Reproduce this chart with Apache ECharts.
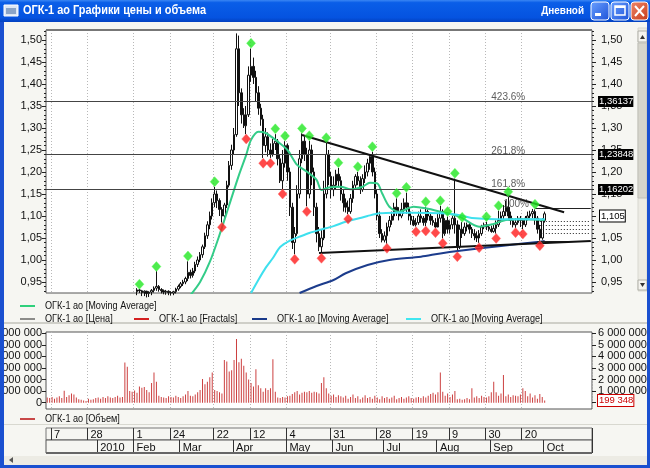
<!DOCTYPE html>
<html><head><meta charset="utf-8">
<script src="https://cdn.jsdelivr.net/npm/echarts@6/dist/echarts.min.js"></script>
<style>html,body{margin:0;padding:0;background:#f6f6f2}#c{width:650px;height:468px}</style>
</head><body><div id="c"></div><script>
// ---------- calendar (trading days) ----------
const firstTradingDay = '2009-12-03';
const lastTradingDay = '2010-10-28';
const holidays = ['2010-01-01','2010-01-04','2010-01-05','2010-01-06','2010-01-07','2010-01-08','2010-02-22','2010-02-23','2010-03-08','2010-05-03','2010-05-10','2010-06-14'];
const extraWorkdays = ['2010-02-27'];

// ---------- date header labels ----------
const topRowDates = ['2009-12-07','2009-12-28','2010-02-01','2010-02-24','2010-03-22','2010-04-12','2010-05-04','2010-05-31','2010-06-28','2010-07-19','2010-08-09','2010-08-30','2010-09-20'];
const topRowLabels = ['7','28','1','24','22','12','4','31','28','19','9','30','20'];
const bottomRowDates = ['2010-01-11','2010-02-01','2010-03-01','2010-04-01','2010-05-04','2010-06-01','2010-07-01','2010-08-02','2010-09-01','2010-10-01'];
const bottomRowLabels = ['2010','Feb','Mar','Apr','May','Jun','Jul','Aug','Sep','Oct'];

// ---------- axis ticks ----------
const priceTicks = [0.95,1.00,1.05,1.10,1.15,1.20,1.25,1.30,1.35,1.40,1.45,1.50];
const volumeTicks = [0,1,2,3,4,5,6]; // millions
const volumeTickLabels = ['0','1 000 000','2 000 000','3 000 000','4 000 000','5 000 000','6 000 000'];

// ---------- price candles [open, close, low, high], first candle date ----------
const priceFirstDate = '2010-02-02';
const ohlc = [
[.928,.932,.920,.936],[.932,.930,.925,.934],[.930,.926,.918,.932],[.926,.929,.918,.931],[.929,.924,.915,.930],
[.924,.927,.916,.929],[.927,.931,.920,.934],[.931,.936,.926,.940],[.936,.940,.930,.975],[.940,.933,.928,.943],
[.933,.930,.924,.936],[.930,.927,.922,.933],[.927,.929,.921,.932],[.929,.926,.920,.931],[.926,.925,.919,.929],
[.925,.928,.920,.930],[.928,.934,.924,.937],[.934,.940,.930,.944],[.940,.946,.936,.950],[.946,.950,.941,.955],
[.950,.958,.945,.962],[.958,.972,.952,.997],[.972,.965,.958,.978],[.965,.975,.960,.982],[.975,.990,.970,.996],
[.990,1.000,.984,1.008],[1.000,1.012,.995,1.018],[1.012,1.030,1.005,1.035],[1.030,1.055,1.025,1.062],[1.055,1.080,1.048,1.088],
[1.080,1.100,1.070,1.110],[1.100,1.130,1.092,1.140],[1.130,1.150,1.120,1.166],[1.150,1.135,1.118,1.158],[1.135,1.115,1.100,1.140],
[1.115,1.100,1.085,1.120],[1.100,1.125,1.094,1.130],[1.125,1.170,1.118,1.180],[1.170,1.215,1.165,1.225],[1.215,1.250,1.205,1.262],
[1.250,1.285,1.240,1.300],[1.285,1.480,1.280,1.515],[1.480,1.380,1.350,1.510],[1.380,1.330,1.310,1.390],[1.330,1.305,1.300,1.345],
[1.305,1.330,1.286,1.350],[1.330,1.420,1.325,1.440],[1.420,1.440,1.405,1.480],[1.440,1.415,1.400,1.460],[1.415,1.380,1.360,1.430],
[1.380,1.345,1.330,1.395],[1.345,1.320,1.305,1.355],[1.320,1.260,1.232,1.330],[1.260,1.280,1.245,1.300],[1.280,1.250,1.235,1.290],
[1.250,1.240,1.232,1.265],[1.240,1.265,1.235,1.275],[1.265,1.270,1.250,1.286],[1.270,1.230,1.215,1.275],[1.230,1.180,1.175,1.240],
[1.180,1.220,1.161,1.250],[1.220,1.260,1.210,1.270],[1.260,1.200,1.180,1.265],[1.200,1.120,1.100,1.210],[1.120,1.040,1.025,1.130],
[1.040,1.060,1.013,1.075],[1.060,1.150,1.055,1.170],[1.150,1.230,1.140,1.250],[1.230,1.270,1.220,1.288],[1.270,1.240,1.225,1.280],
[1.240,1.150,1.122,1.255],[1.150,1.250,1.140,1.271],[1.250,1.200,1.170,1.262],[1.200,1.120,1.100,1.210],[1.120,1.060,1.040,1.130],
[1.060,1.030,1.020,1.075],[1.030,1.050,1.015,1.070],[1.050,1.150,1.045,1.180],[1.150,1.240,1.140,1.266],[1.240,1.190,1.170,1.250],
[1.190,1.160,1.140,1.200],[1.160,1.170,1.145,1.190],[1.170,1.195,1.160,1.205],[1.195,1.180,1.165,1.209],[1.180,1.150,1.135,1.190],
[1.150,1.130,1.110,1.160],[1.130,1.120,1.108,1.140],[1.120,1.110,1.104,1.135],[1.110,1.140,1.105,1.150],[1.140,1.170,1.130,1.180],
[1.170,1.190,1.160,1.195],[1.190,1.180,1.170,1.200],[1.180,1.160,1.150,1.190],[1.160,1.185,1.155,1.195],[1.185,1.200,1.175,1.215],
[1.200,1.220,1.190,1.230],[1.220,1.235,1.205,1.240],[1.235,1.200,1.190,1.246],[1.200,1.150,1.140,1.210],[1.150,1.100,1.090,1.160],
[1.100,1.060,1.050,1.110],[1.060,1.045,1.040,1.070],[1.045,1.055,1.040,1.065],[1.055,1.075,1.037,1.085],[1.075,1.090,1.065,1.100],
[1.090,1.100,1.080,1.110],[1.100,1.120,1.090,1.130],[1.120,1.110,1.100,1.140],[1.110,1.100,1.090,1.120],[1.100,1.115,1.095,1.130],
[1.115,1.130,1.105,1.140],[1.130,1.120,1.105,1.153],[1.120,1.100,1.090,1.130],[1.100,1.090,1.080,1.110],[1.090,1.080,1.077,1.100],
[1.080,1.085,1.076,1.095],[1.085,1.100,1.080,1.110],[1.100,1.095,1.085,1.115],[1.095,1.085,1.078,1.100],[1.085,1.110,1.077,1.121],
[1.110,1.100,1.090,1.115],[1.100,1.090,1.080,1.105],[1.090,1.085,1.078,1.100],[1.085,1.075,1.073,1.095],[1.075,1.095,1.074,1.105],
[1.095,1.110,1.085,1.123],[1.110,1.060,1.049,1.115],[1.060,1.090,1.055,1.095],[1.090,1.070,1.060,1.099],[1.070,1.080,1.060,1.090],
[1.080,1.095,1.070,1.100],[1.095,1.080,1.060,1.185],[1.080,1.030,1.018,1.090],[1.030,1.070,1.025,1.080],[1.070,1.060,1.050,1.086],
[1.060,1.075,1.055,1.085],[1.075,1.080,1.065,1.085],[1.080,1.070,1.060,1.084],[1.070,1.060,1.050,1.075],[1.060,1.055,1.045,1.070],
[1.055,1.050,1.041,1.065],[1.050,1.060,1.039,1.068],[1.060,1.075,1.055,1.080],[1.075,1.080,1.070,1.085],[1.080,1.075,1.068,1.087],
[1.075,1.070,1.065,1.080],[1.070,1.065,1.062,1.078],[1.065,1.072,1.062,1.080],[1.072,1.080,1.060,1.090],[1.080,1.090,1.075,1.112],
[1.090,1.100,1.085,1.110],[1.100,1.110,1.090,1.125],[1.110,1.120,1.100,1.135],[1.120,1.100,1.090,1.143],[1.100,1.090,1.080,1.110],
[1.090,1.080,1.074,1.095],[1.080,1.085,1.073,1.095],[1.085,1.095,1.080,1.100],[1.095,1.090,1.075,1.100],[1.090,1.080,1.070,1.095],
[1.080,1.095,1.075,1.100],[1.095,1.100,1.090,1.110],[1.100,1.105,1.095,1.112],[1.105,1.110,1.095,1.116],[1.110,1.095,1.080,1.115],
[1.095,1.070,1.060,1.100],[1.070,1.050,1.044,1.080],[1.050,1.090,1.046,1.095],[1.090,1.105,1.085,1.110]
];

// ---------- volume (millions of shares), from first trading day ----------
const volume = [
0.45,0.40,0.50,0.35,0.45,0.55,0.40, 1.04, 0.50, 0.65,0.80,0.70, 0.45,
0.30,0.25,0.20,0.15,0.35,0.25,0.30,0.40,
0.45,0.35,0.50,0.40,0.55,0.45,0.40,0.50,0.60,0.45,0.50,
3.47,3.10, 1.00,0.95,1.05,0.85, 1.40,1.30,1.35, 1.10,0.90, 1.70,2.60,1.80,
0.60,0.50,0.45,0.40,0.55,0.50,0.45,0.60,0.50,0.40,0.55,
0.70,1.00,0.60, 0.55,0.70,0.90,1.10, 2.05,1.60,1.80,2.20,2.60,1.10, 1.00,0.90,0.80,
3.70,3.56,2.70,2.80,3.70,5.50,3.50,3.80,3.20,2.60,2.00,1.70,1.40,2.90,1.50,1.25,0.95,1.25,1.10,1.25,3.75,0.95,
0.45,0.40,0.50,0.45,0.55, 0.60,0.75,0.90,1.00,0.70,0.85,0.95, 0.90,1.00,0.85,0.95,0.90,
0.80,1.70,2.20,1.25, 0.80,0.60,0.70,0.50,0.65,0.55,
0.45,0.60,0.35,0.50,0.70,0.40,0.55,0.30,0.45,0.65,0.40,0.50,0.35,0.60,0.45,0.30,0.55,0.40,0.50,0.35,0.45,0.60,0.30,0.40,0.50,0.35,0.45,0.55,0.40,
0.35,0.45,0.50,0.40,0.55,0.45,0.60, 0.75,0.85,0.70,0.90, 2.60,0.95, 0.60,0.80,0.50,0.70, 1.00,
0.30,0.35,0.25,0.30,0.40,0.30, 1.25, 0.45,0.55,0.40,0.60,0.50,0.45,0.55,
0.90,1.80,0.90,0.60,0.80,2.40, 0.55,0.70,0.50,0.65,0.60,0.55,0.70, 1.25,1.00,
0.55,0.80,0.45,0.65,0.35,0.75,0.50, 0.199348
];

// ---------- indicators: [trading-day index, value] ----------
const fractalsUp = [[38,0.945],[45,0.985],[58,1.009],[69,1.178],[84,1.4925],[94,1.298],[98,1.282],[105,1.299],[108,1.2825],[115,1.278],[120,1.221],[128,1.212],[134,1.2575],[144,1.1516],[148,1.1652],[156,1.1325],[162,1.1348],[165,1.110],[168,1.197],[171,1.097],[181,1.0984],[186,1.1234],[190,1.1552],[201,1.1266]];
const fractalsDown = [[72,1.0743],[82,1.275],[89,1.22],[92,1.22],[97,1.15],[102,1.0016],[107,1.11],[113,1.0039],[124,1.093],[140,1.0266],[152,1.0643],[156,1.066],[160,1.062],[163,1.038],[169,1.0075],[178,1.028],[185,1.049],[193,1.062],[196,1.059],[203,1.0325]];
const maGreen = [[59,0.920],[63,0.950],[67,0.9955],[71,1.057],[75,1.125],[79,1.193],[82,1.239],[84,1.273],[87,1.2916],[90,1.2886],[95,1.269],[99,1.25],[103,1.216],[107,1.2007],[111,1.182],[113,1.159],[116,1.165],[121,1.1666],[125,1.1607],[130,1.1666],[133,1.1757],[136,1.1743],[138,1.1516],[141,1.1211],[145,1.1098],[151,1.1211],[156,1.1175],[162,1.1098],[170,1.0984],[178,1.0757],[184,1.082],[189,1.091],[196,1.0925],[205,1.091]];
const maCyan = [[84,0.925],[87,0.9545],[90,0.982],[93,1.0045],[96,1.0295],[100,1.044],[104,1.053],[108,1.0614],[112,1.068],[118,1.077],[123,1.087],[129,1.0955],[132,1.100],[137,1.106],[143,1.1075],[151,1.1075],[162,1.106],[170,1.102],[175,1.0955],[189,1.0925],[205,1.0925]];
const maNavy = [[104,0.925],[111,0.941],[118,0.9545],[123,0.9698],[132,0.9886],[141,1.000],[154,1.0075],[162,1.015],[170,1.021],[187,1.0318],[203,1.0416],[205,1.043]];
const resistanceLine = [[105,1.284],[213,1.1084]];
const supportLine = [[112,1.016],[224,1.0432]];

// ---------- Fibonacci levels ----------
const fibFullLevels = [1.36137,1.23848,1.16202];
const fibFullValueLabels = ['1,36137','1,23848','1,16202'];
const fibShortLevels = [1.1175,1.0886,1.0795,1.0705,1.0614,1.0432];
const fibShortStart = [201,203,203,203,203,202];
const fibTexts = [[183,1.36137,'423.6%'],[183,1.23848,'261.8%'],[183,1.16202,'161.8%'],[188,1.1175,'100%']];
const lastPrice = 1.105, lastPriceLabel = '1,105';
const lastVolume = 0.199348, lastVolumeLabel = '199 348';

// ---------- build ----------
const dates = [];
for (let t = Date.parse(firstTradingDay+'T00:00:00Z'); t <= Date.parse(lastTradingDay+'T00:00:00Z'); t += 86400000) {
  const d = new Date(t), s = d.toISOString().slice(0,10), wd = d.getUTCDay();
  if ((wd > 0 && wd < 6 && holidays.indexOf(s) < 0) || extraWorkdays.indexOf(s) >= 0) dates.push(s);
}
const p0 = dates.indexOf(priceFirstDate);
const candleData = dates.map((d,i) => (i >= p0 && i - p0 < ohlc.length) ? ohlc[i-p0] : '-');
const volData = dates.map((d,i) => i < volume.length ? volume[i] : '-');
const topMap = {}; topRowDates.forEach((d,k) => { topMap[dates.indexOf(d)] = topRowLabels[k]; });
const botMap = {}; bottomRowDates.forEach((d,k) => { botMap[dates.indexOf(d)] = bottomRowLabels[k]; });
const minorTicks = []; for (let v = 93; v <= 152; v++) if (v % 5) minorTicks.push(v/100);

const FONT = '"Liberation Sans", Arial, sans-serif';
const L = 46, R = 58;
const gridLine = { show: true, interval: i => topMap[i] !== undefined, lineStyle: { color: '#b8b8b8', type: [1,2], width: 1 } };
const HIDDEN_LINE = { color:'rgba(0,0,0,0)', width:0 };

function priceY(pos, labels) {
  return { type:'value', gridIndex:0, position:pos, min:0.925, max:1.5227,
    axisLine:{show:false}, splitLine:{show:false},
    axisTick:{show:true, customValues: labels ? priceTicks : minorTicks, length: labels ? 4 : 2, lineStyle:{color:'#222'}},
    axisLabel:{show:labels, customValues: priceTicks, formatter: v => v.toFixed(2).replace('.', ','), fontFamily:FONT, fontSize:11, color:'#111', margin: pos === 'left' ? 4 : 9} };
}
function volY(pos) {
  return { type:'value', gridIndex:1, position:pos, min:-0.545, max:6.11,
    axisLine:{show:false}, splitLine:{show:false},
    axisTick:{show:true, customValues: volumeTicks, length:4, lineStyle:{color:'#222'}},
    axisLabel:{customValues: volumeTicks, formatter: v => volumeTickLabels[volumeTicks.indexOf(Math.round(v))], fontFamily:FONT, fontSize:11, color:'#111', margin: pos === 'left' ? 4 : 6} };
}

const boxLabel = (txt, bg, fg, border, dist) => ({ show:true, formatter: txt, position:'end', distance: dist || 6, backgroundColor:bg, color:fg, borderColor:border || bg, borderWidth: border ? 1 : 0, padding:[1,0,0,1], fontFamily:FONT, fontSize:9.5 });

// title width fit
const mctx = document.createElement('canvas').getContext('2d');
const titleText = 'ОГК-1 ао Графики цены и объема';
mctx.font = 'bold 12px ' + FONT;
const titleScale = 183 / mctx.measureText(titleText).width;

function legend(x, y, color, text, lw) {
  return [
    { type:'line', z:50, shape:{x1:x, y1:y, x2:x+15, y2:y}, style:{stroke:color, lineWidth:lw||2} },
    { type:'text', z:50, x:x+25, y:y, scaleX:0.83, style:{text:text, fill:'#111', font:'11px ' + FONT, verticalAlign:'middle'} }
  ];
}

const blueGrad = {type:'linear', x:0, y:0, x2:0, y2:1, colorStops:[{offset:0,color:'#3a86f4'},{offset:0.12,color:'#0a5ee8'},{offset:0.8,color:'#0553e0'},{offset:1,color:'#0341c0'}]};
const btnGrad = {type:'linear', x:0, y:0, x2:1, y2:1, colorStops:[{offset:0,color:'#6aa0ff'},{offset:1,color:'#1d52d8'}]};
const redGrad = {type:'linear', x:0, y:0, x2:1, y2:1, colorStops:[{offset:0,color:'#f0876a'},{offset:1,color:'#c63a18'}]};

const graphics = [
  // title bar
  { type:'rect', z:60, shape:{x:0, y:0, width:650, height:22}, style:{fill:blueGrad} },
  { type:'rect', z:61, shape:{x:4, y:5, width:14, height:11}, style:{fill:'#dce6f4', stroke:'#ffffff', lineWidth:1} },
  { type:'rect', z:62, shape:{x:6, y:8, width:10, height:6}, style:{fill:'#8aa4c8'} },
  { type:'text', z:61, x:23, y:11, scaleX:titleScale, style:{text:titleText, fill:'#ffffff', font:'bold 12px ' + FONT, verticalAlign:'middle'} },
  { type:'text', z:61, x:584, y:11, scaleX:0.9, style:{text:'Дневной', fill:'#ffffff', font:'bold 11px ' + FONT, verticalAlign:'middle', align:'right'} },
  { type:'rect', z:61, shape:{x:591, y:2, width:18, height:18, r:3}, style:{fill:btnGrad, stroke:'#ffffff', lineWidth:1} },
  { type:'rect', z:62, shape:{x:595, y:13, width:6, height:3}, style:{fill:'#ffffff'} },
  { type:'rect', z:61, shape:{x:611, y:2, width:18, height:18, r:3}, style:{fill:btnGrad, stroke:'#ffffff', lineWidth:1} },
  { type:'rect', z:62, shape:{x:615, y:6, width:10, height:9}, style:{fill:'none', stroke:'#ffffff', lineWidth:1.5} },
  { type:'rect', z:62, shape:{x:615, y:6, width:10, height:2}, style:{fill:'#ffffff'} },
  { type:'rect', z:61, shape:{x:631, y:2, width:17, height:18, r:3}, style:{fill:redGrad, stroke:'#ffffff', lineWidth:1} },
  { type:'line', z:62, shape:{x1:635, y1:6, x2:644, y2:16}, style:{stroke:'#ffffff', lineWidth:2} },
  { type:'line', z:62, shape:{x1:644, y1:6, x2:635, y2:16}, style:{stroke:'#ffffff', lineWidth:2} },
  // frame borders
  { type:'rect', z:60, shape:{x:0, y:22, width:4, height:446}, style:{fill:'#1a50d0'} },
  { type:'rect', z:60, shape:{x:647, y:22, width:3, height:446}, style:{fill:'#1a50d0'} },
  { type:'rect', z:60, shape:{x:0, y:465, width:650, height:3}, style:{fill:'#1a50d0'} },
  // vertical scrollbar
  { type:'rect', z:55, shape:{x:638, y:28, width:9, height:263}, style:{fill:'#ecebe4', stroke:'#d8d8d0'} },
  { type:'rect', z:56, shape:{x:638, y:31, width:9, height:11}, style:{fill:'#f4f3ee', stroke:'#b0b0a8'} },
  { type:'polygon', z:57, shape:{points:[[640,39],[645,39],[642.5,35]]}, style:{fill:'#333'} },
  { type:'rect', z:56, shape:{x:638, y:43, width:9, height:155}, style:{fill:'#d6d5cc', stroke:'#c0c0b8'} },
  { type:'rect', z:56, shape:{x:638, y:280, width:9, height:10}, style:{fill:'#f4f3ee', stroke:'#b0b0a8'} },
  { type:'polygon', z:57, shape:{points:[[640,283],[645,283],[642.5,287]]}, style:{fill:'#333'} },
  // horizontal scrollbar strip
  { type:'rect', z:55, shape:{x:4, y:456, width:643, height:9}, style:{fill:'#ecebe4'} },
  { type:'polygon', z:56, shape:{points:[[13,457],[13,463],[9,460]]}, style:{fill:'#555'} },
  // panel separators and heavier plot top edge
  { type:'rect', z:5, shape:{x:4, y:322, width:643, height:2}, style:{fill:'#cfcfc8'} },
  { type:'rect', z:5, shape:{x:4, y:424, width:643, height:1}, style:{fill:'#d8d8d0'} },
  { type:'rect', z:20, shape:{x:46, y:29, width:546, height:2}, style:{fill:'#777777'} },
  { type:'rect', z:20, shape:{x:46, y:452, width:546, height:2}, style:{fill:'#666666'} }
].concat(
  legend(20, 306, '#2fd07c', 'ОГК-1 ао [Moving Average]'),
  legend(20, 319, '#222222', 'ОГК-1 ао [Цена]', 1),
  legend(134, 319, '#d42020', 'ОГК-1 ао [Fractals]'),
  legend(252, 319, '#1a3a8a', 'ОГК-1 ао [Moving Average]'),
  legend(406, 319, '#40e6f0', 'ОГК-1 ао [Moving Average]'),
  legend(20, 419, '#c84848', 'ОГК-1 ао [Объем]')
);

const gridBase = { left:L, right:R, show:true, outerBoundsMode:'none', containLabel:false };
const option = {
  animation: false,
  backgroundColor: '#f6f6f2',
  textStyle: { fontFamily: FONT },
  grid: [
    Object.assign({ top:30, height:263, backgroundColor:'#ffffff', borderColor:'#555', borderWidth:1 }, gridBase),
    Object.assign({ top:332, height:77, backgroundColor:'#ffffff', borderColor:'#555', borderWidth:1 }, gridBase),
    Object.assign({ top:428, height:12, backgroundColor:'#f6f6f2', borderColor:'#777', borderWidth:1 }, gridBase),
    Object.assign({ top:440, height:13, backgroundColor:'#f6f6f2', borderColor:'#555', borderWidth:1 }, gridBase)
  ],
  xAxis: [
    { type:'category', gridIndex:0, data:dates, boundaryGap:true, axisLine:{show:false}, axisTick:{show:false}, axisLabel:{show:false}, splitLine:gridLine },
    { type:'category', gridIndex:1, data:dates, boundaryGap:true, axisLine:{show:false}, axisTick:{show:false}, axisLabel:{show:false}, splitLine:gridLine },
    { type:'category', gridIndex:2, data:dates, boundaryGap:true, axisLine:{show:false}, splitLine:{show:false},
      axisTick:{show:true, inside:true, length:12, interval: i => topMap[i] !== undefined, lineStyle:{color:'#333'}},
      axisLabel:{show:true, inside:true, margin:0, interval: i => topMap[i] !== undefined, formatter:(v,i) => topMap[i] || '', align:'left', padding:[0,0,0,2], fontFamily:FONT, fontSize:11, color:'#111'} },
    { type:'category', gridIndex:3, data:dates, boundaryGap:true, axisLine:{show:false}, splitLine:{show:false},
      axisTick:{show:true, inside:true, length:13, interval: i => botMap[i] !== undefined, lineStyle:{color:'#333'}},
      axisLabel:{show:true, inside:true, margin:0, interval: i => botMap[i] !== undefined, formatter:(v,i) => botMap[i] || '', align:'left', padding:[0,0,0,2], fontFamily:FONT, fontSize:11, color:'#111'} }
  ],
  yAxis: [
    priceY('left', true), priceY('right', true), priceY('left', false), priceY('right', false),
    volY('left'), volY('right'),
    { type:'value', gridIndex:2, show:false, min:0, max:1 },
    { type:'value', gridIndex:3, show:false, min:0, max:1 }
  ],
  graphic: graphics,
  series: [
    { type:'candlestick', name:'ОГК-1 ао [Цена]', xAxisIndex:0, yAxisIndex:0, data:candleData, barWidth:2, clip:true,
      itemStyle:{ color:'#ffffff', color0:'#111111', borderColor:'#111111', borderColor0:'#111111', borderWidth:1 } },
    { type:'line', name:'MA green', xAxisIndex:0, yAxisIndex:0, data:maGreen, smooth:0.3, symbol:'none', clip:true, z:4, lineStyle:{color:'#33cc88', width:2} },
    { type:'line', name:'MA cyan', xAxisIndex:0, yAxisIndex:0, data:maCyan, smooth:0.3, symbol:'none', clip:true, z:4, lineStyle:{color:'#3ee0ee', width:2} },
    { type:'line', name:'MA navy', xAxisIndex:0, yAxisIndex:0, data:maNavy, smooth:0.3, symbol:'none', clip:true, z:4, lineStyle:{color:'#1c3c8c', width:2} },
    { type:'line', name:'resistance', xAxisIndex:0, yAxisIndex:0, data:resistanceLine, symbol:'none', z:5, lineStyle:{color:'#111', width:2} },
    { type:'line', name:'support', xAxisIndex:0, yAxisIndex:0, data:supportLine, symbol:'none', z:5, lineStyle:{color:'#111', width:2} },
    { type:'line', name:'fib', xAxisIndex:0, yAxisIndex:0, data:[], z:3,
      markLine:{ silent:true, symbol:'none', animation:false,
        lineStyle:{color:'#444', type:'solid', width:1},
        data: fibFullLevels.map((v,k) => ({ yAxis:v, label: boxLabel(fibFullValueLabels[k], '#000', '#fff') }))
          .concat([{ yAxis:lastPrice, lineStyle:HIDDEN_LINE, label: boxLabel(lastPriceLabel, '#fff', '#000', '#000', 8) }])
          .concat(fibShortLevels.map((v,k) => [
            { coord:[fibShortStart[k], v], lineStyle:{color:'#222', type: (k === 0 || k === fibShortLevels.length-1) ? 'solid' : [1,2], width:1}, label:{show:false} },
            { coord:[dates.length-1, v] } ]))
      } },
    { type:'scatter', name:'fibText', xAxisIndex:0, yAxisIndex:0, data:fibTexts.map(t => ({value:[t[0], t[1]], label:{formatter:t[2]}})), symbolSize:0, z:6,
      label:{show:true, position:'right', distance:0, offset:[0,-4], color:'#333', fontFamily:FONT, fontSize:10} },
    { type:'scatter', name:'fractal up', xAxisIndex:0, yAxisIndex:0, data:fractalsUp, symbol:'diamond', symbolSize:[9,10], z:7,
      itemStyle:{color:'#22e622', borderColor:'#55ff55', borderWidth:0.5} },
    { type:'scatter', name:'fractal down', xAxisIndex:0, yAxisIndex:0, data:fractalsDown, symbol:'diamond', symbolSize:[9,10], z:7,
      itemStyle:{color:'#ff1c1c', borderColor:'#ff6666', borderWidth:0.5} },
    { type:'bar', name:'ОГК-1 ао [Объем]', xAxisIndex:1, yAxisIndex:4, data:volData, barWidth:1, itemStyle:{color:'#cc4040'},
      markLine:{ silent:true, symbol:'none', animation:false, lineStyle:HIDDEN_LINE,
        data:[{ yAxis:lastVolume, label: boxLabel(lastVolumeLabel, '#fff', '#cc0000', '#cc0000', 6) }] } }
  ]
};

const chart = echarts.init(document.getElementById('c'), null, {renderer:'canvas'});
chart.setOption(option);
</script></body></html>
